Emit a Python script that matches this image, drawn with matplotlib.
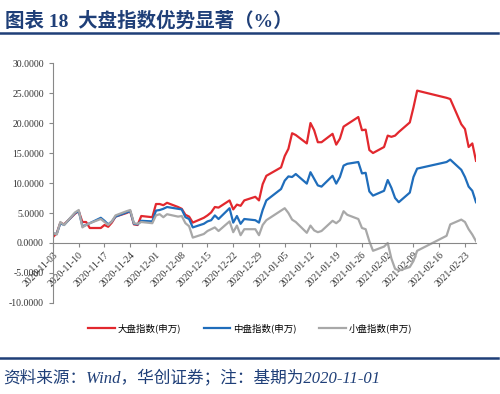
import matplotlib
matplotlib.use("Agg")
import matplotlib.pyplot as plt
import matplotlib.dates as mdates
from matplotlib.lines import Line2D
import pandas as pd

plt.rcParams['font.family'] = ['Liberation Serif', 'Noto Sans CJK SC', 'DejaVu Sans']

# trading days (base 2020-11-01)
dates = pd.to_datetime([
    "2020-11-03", "2020-11-04", "2020-11-05", "2020-11-06", "2020-11-09", "2020-11-10",
    "2020-11-11", "2020-11-12", "2020-11-13", "2020-11-16", "2020-11-17", "2020-11-18",
    "2020-11-19", "2020-11-20", "2020-11-23", "2020-11-24", "2020-11-25", "2020-11-26",
    "2020-11-27", "2020-11-30", "2020-12-01", "2020-12-02", "2020-12-03", "2020-12-04",
    "2020-12-07", "2020-12-08", "2020-12-09", "2020-12-10", "2020-12-11", "2020-12-14",
    "2020-12-15", "2020-12-16", "2020-12-17", "2020-12-18", "2020-12-21", "2020-12-22",
    "2020-12-23", "2020-12-24", "2020-12-25", "2020-12-28", "2020-12-29", "2020-12-30",
    "2020-12-31", "2021-01-04", "2021-01-05", "2021-01-06", "2021-01-07", "2021-01-08",
    "2021-01-11", "2021-01-12", "2021-01-13", "2021-01-14", "2021-01-15", "2021-01-18",
    "2021-01-19", "2021-01-20", "2021-01-21", "2021-01-22", "2021-01-25", "2021-01-26",
    "2021-01-27", "2021-01-28", "2021-01-29", "2021-02-01", "2021-02-02", "2021-02-03",
    "2021-02-04", "2021-02-05", "2021-02-08", "2021-02-09", "2021-02-10", "2021-02-18",
    "2021-02-19", "2021-02-22", "2021-02-23", "2021-02-24", "2021-02-25", "2021-02-26",
])

large_cap = [
    1.0, 1.6, 3.4, 3.1, 4.9, 5.3,
    3.5, 3.5, 2.5, 2.5, 3.0, 2.7,
    3.4, 4.4, 5.0, 5.3, 3.1, 3.0,
    4.5, 4.3, 6.5, 6.5, 6.3, 6.7,
    6.0, 5.7, 4.7, 4.4, 3.4, 4.2,
    4.6, 5.1, 6.0, 5.9, 7.1, 5.6,
    6.4, 6.2, 7.1, 7.7, 7.1, 9.8,
    11.2, 12.6, 14.5, 15.7, 18.3, 18.0,
    16.6, 20.0, 18.8, 16.8, 16.8, 18.2,
    16.4, 17.4, 19.4, 19.8, 21.0, 18.8,
    18.9, 15.5, 15.0, 16.0, 17.9, 17.7,
    17.9, 18.5, 20.1, 22.6, 25.4, 24.2,
    24.0, 19.8, 19.0, 16.0, 16.6, 13.7,
]

mid_cap = [
    1.6, 1.5, 3.3, 3.0, 5.0, 5.3,
    2.8, 3.0, 3.3, 4.2, 3.7, 3.1,
    3.6, 4.4, 5.1, 5.3, 3.2, 3.1,
    3.7, 3.6, 5.4, 5.5, 5.7, 6.0,
    5.7, 5.6, 4.3, 4.0, 2.6, 3.2,
    3.6, 3.8, 4.6, 4.0, 5.8, 3.4,
    4.5, 3.2, 4.0, 3.8, 3.4, 5.5,
    7.1, 9.0, 10.4, 11.1, 11.0, 11.5,
    9.9, 11.8, 10.7, 9.6, 9.4, 11.2,
    9.9, 11.0, 12.9, 13.2, 13.5, 11.6,
    11.7, 8.6, 7.9, 8.7, 10.5, 9.2,
    7.5, 6.8, 8.4, 11.0, 12.4, 13.5,
    13.9, 12.2, 11.0, 9.4, 8.7, 6.8,
]

small_cap = [
    1.7, 1.4, 3.5, 3.0, 5.1, 5.5,
    2.6, 3.0, 3.3, 4.0, 3.5, 3.0,
    3.6, 4.6, 5.3, 5.5, 3.3, 3.2,
    3.5, 3.3, 4.6, 4.8, 4.3, 4.8,
    4.4, 4.5, 3.3, 2.8, 0.9, 1.5,
    2.0, 2.3, 2.6, 2.0, 3.6, 1.8,
    2.9, 1.3, 2.3, 2.3, 1.3, 3.0,
    3.8, 5.4, 5.8, 5.0, 3.9, 3.5,
    1.7, 2.9, 2.1, 1.8, 2.0, 3.7,
    3.3, 3.8, 5.3, 4.7, 4.0, 2.5,
    2.3, 0.3, -1.3, -0.6, 0.0, -2.6,
    -4.3, -4.6, -4.0, -3.0, -1.3, 1.2,
    3.1, 3.9, 3.5, 2.3, 1.4, 0.3,
]

names = ["大盘指数(申万)", "中盘指数(申万)", "小盘指数(申万)"]
colors = ["#E2282E", "#1F6DBB", "#A8A8A8"]
navy = "#1F3F78"

fig = plt.figure(figsize=(5, 3.94), dpi=100)
ax = fig.add_axes([0.106, 0.231, 0.846, 0.609])

for vals, c in zip([large_cap, mid_cap, small_cap], colors):
    ax.plot(dates, vals, color=c, lw=1.6)

ax.set_ylim(-10, 30)
ax.set_yticks(range(-10, 31, 5))
ax.yaxis.set_major_formatter(plt.FormatStrFormatter('%.4f'))
ax.set_xlim(pd.Timestamp("2020-11-03"), pd.Timestamp("2021-02-26"))
ax.xaxis.set_major_locator(mdates.WeekdayLocator(byweekday=mdates.TU))
ax.xaxis.set_major_formatter(mdates.DateFormatter('%Y-%m-%d'))

for s in ['top', 'right']:
    ax.spines[s].set_visible(False)
ax.spines['bottom'].set_position(('data', 0))
ax.spines['bottom'].set_color('#888888')
ax.spines['left'].set_color('#888888')
ax.tick_params(axis='both', direction='out', length=3, color='#888888',
               labelsize=7, labelcolor='#333333')
plt.setp(ax.get_xticklabels(), rotation=45, ha='right', va='top', rotation_mode='anchor')
ax.tick_params(axis='x', pad=2)

handles = [Line2D([], [], color=c, lw=1.6) for c in colors]
fig.legend(handles, names, loc='center', bbox_to_anchor=(0.5, 0.167), ncol=3,
           frameon=False, handlelength=2.8, handletextpad=0.3,
           columnspacing=2.4, prop={'family': ['Noto Sans CJK SC'], 'size': 6.8})

fig.text(0.01, 0.945, "图表 18  大盘指数优势显著（%）", color=navy, fontsize=14,
         fontweight='bold', va='center', family=['Liberation Serif', 'Noto Sans CJK SC'])
fig.add_artist(Line2D([0, 0.995], [0.915, 0.915], color=navy, lw=1.8))
fig.add_artist(Line2D([0, 0.995], [0.092, 0.092], color=navy, lw=1.8))
fig.text(0.006, 0.04, "资料来源：Wind，华创证券；注：基期为2020-11-01", color=navy,
         fontsize=12, style='italic', va='center',
         family=['Liberation Serif', 'Noto Sans CJK SC'])

fig.savefig("out.png", dpi=100)
